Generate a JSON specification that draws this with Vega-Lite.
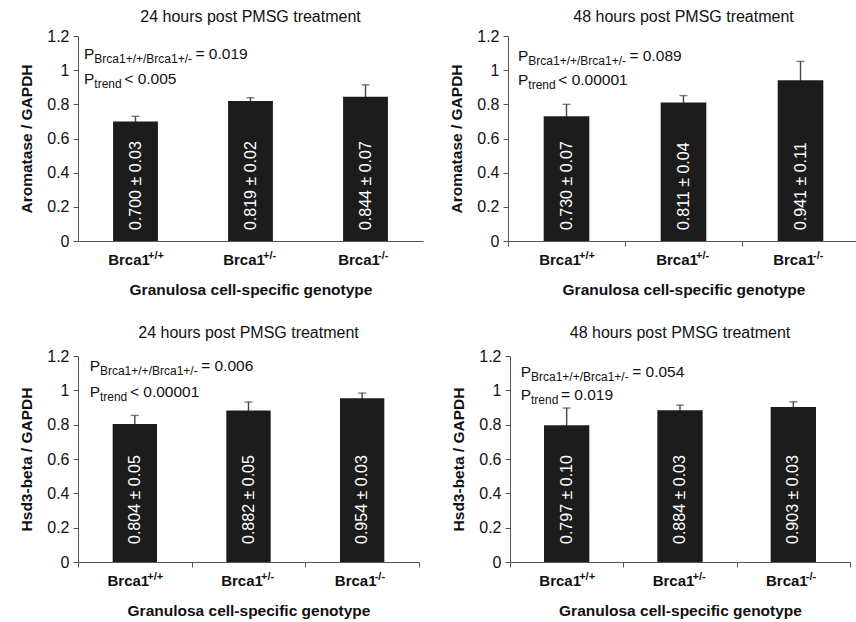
{
  "$schema": "https://vega.github.io/schema/vega-lite/v6.json",
  "padding": {"top": 9, "left": 19, "right": 0, "bottom": 0},
  "background": "white",
  "config": {
    "font": "Liberation Sans",
    "view": {"stroke": null},
    "title": {"fontSize": 16, "fontWeight": "normal", "offset": 3, "color": "#111"},
    "axisY": {"values": [0, 0.2, 0.4, 0.6, 0.8, 1, 1.2], "format": "~g", "grid": false, "labelFontSize": 16, "labelColor": "#111", "labelPadding": 4, "tickSize": 5, "domainColor": "#555", "tickColor": "#555", "titleFontSize": 15.5, "titleFontWeight": "bold", "titlePadding": 12, "titleColor": "#111"},
    "axisX": {"domainColor": "#555", "tickColor": "#555", "labelExpr": "datum.label ? 'Brca1' : ''", "labelAngle": 0, "labelFontSize": 15, "labelFontWeight": "bold", "labelColor": "#111", "labelOffset": -7, "labelPadding": 6, "tickSize": 5, "tickBand": "extent", "titleFontSize": 15.5, "titleFontWeight": "bold", "titleColor": "#111", "titlePadding": 15, "grid": false}
  },
  "datasets": {
    "tl": [
      {"genotype": "Brca1+/+", "sup": "+/+", "mean": 0.700, "se": 0.03, "label": "0.700 ± 0.03"},
      {"genotype": "Brca1+/-", "sup": "+/-", "mean": 0.819, "se": 0.02, "label": "0.819 ± 0.02"},
      {"genotype": "Brca1-/-", "sup": "-/-", "mean": 0.844, "se": 0.07, "label": "0.844 ± 0.07"}
    ],
    "tr": [
      {"genotype": "Brca1+/+", "sup": "+/+", "mean": 0.730, "se": 0.07, "label": "0.730 ± 0.07"},
      {"genotype": "Brca1+/-", "sup": "+/-", "mean": 0.811, "se": 0.04, "label": "0.811 ± 0.04"},
      {"genotype": "Brca1-/-", "sup": "-/-", "mean": 0.941, "se": 0.11, "label": "0.941 ± 0.11"}
    ],
    "bl": [
      {"genotype": "Brca1+/+", "sup": "+/+", "mean": 0.804, "se": 0.05, "label": "0.804 ± 0.05"},
      {"genotype": "Brca1+/-", "sup": "+/-", "mean": 0.882, "se": 0.05, "label": "0.882 ± 0.05"},
      {"genotype": "Brca1-/-", "sup": "-/-", "mean": 0.954, "se": 0.03, "label": "0.954 ± 0.03"}
    ],
    "br": [
      {"genotype": "Brca1+/+", "sup": "+/+", "mean": 0.797, "se": 0.10, "label": "0.797 ± 0.10"},
      {"genotype": "Brca1+/-", "sup": "+/-", "mean": 0.884, "se": 0.03, "label": "0.884 ± 0.03"},
      {"genotype": "Brca1-/-", "sup": "-/-", "mean": 0.903, "se": 0.03, "label": "0.903 ± 0.03"}
    ]
  },
  "vconcat": [
    {
      "hconcat": [
        {
          "width": 345, "height": 205,
          "title": "24 hours post PMSG treatment",
          "data": {"name": "tl"},
          "encoding": {
            "x": {"field": "genotype", "type": "nominal", "sort": null, "scale": {"paddingInner": 0, "paddingOuter": 0}, "axis": {"title": "Granulosa cell-specific genotype", "tickOpacity": 0}},
            "y": {"field": "mean", "type": "quantitative", "scale": {"domain": [0, 1.2]}, "axis": {"title": "Aromatase / GAPDH"}}
          },
          "layer": [
            {"mark": {"type": "errorbar", "ticks": true, "color": "#444", "thickness": 1.4, "size": 8}, "encoding": {"yError": {"field": "se"}}},
            {"mark": {"type": "bar", "color": "#1c1c1c", "width": {"band": 0.39}}},
            {"mark": {"type": "text", "angle": 270, "align": "left", "baseline": "middle", "fontSize": 16, "color": "white"}, "encoding": {"y": {"datum": 0.064}, "text": {"field": "label"}}},
            {"mark": {"type": "text", "align": "left", "baseline": "alphabetic", "fontSize": 11, "fontWeight": "bold", "color": "#111", "dx": 12.5}, "encoding": {"y": {"datum": -0.103}, "text": {"field": "sup"}}},
            {"transform": [{"filter": "datum.genotype === 'Brca1+/+'"}], "mark": {"type": "text", "text": "P", "align": "left", "baseline": "alphabetic", "fontSize": 15.5, "color": "#111", "dx": -51.5}, "encoding": {"y": {"datum": 1.063}}},
            {"transform": [{"filter": "datum.genotype === 'Brca1+/+'"}], "mark": {"type": "text", "text": "Brca1+/+/Brca1+/-", "align": "left", "baseline": "alphabetic", "fontSize": 12, "color": "#111", "dx": -41.2, "dy": 4}, "encoding": {"y": {"datum": 1.063}}},
            {"transform": [{"filter": "datum.genotype === 'Brca1+/+'"}], "mark": {"type": "text", "text": "= 0.019", "align": "left", "baseline": "alphabetic", "fontSize": 15.5, "color": "#111", "dx": 60}, "encoding": {"y": {"datum": 1.063}}},
            {"transform": [{"filter": "datum.genotype === 'Brca1+/+'"}], "mark": {"type": "text", "text": "P", "align": "left", "baseline": "alphabetic", "fontSize": 15.5, "color": "#111", "dx": -51.5}, "encoding": {"y": {"datum": 0.92}}},
            {"transform": [{"filter": "datum.genotype === 'Brca1+/+'"}], "mark": {"type": "text", "text": "trend", "align": "left", "baseline": "alphabetic", "fontSize": 12, "color": "#111", "dx": -41.2, "dy": 4}, "encoding": {"y": {"datum": 0.92}}},
            {"transform": [{"filter": "datum.genotype === 'Brca1+/+'"}], "mark": {"type": "text", "text": "< 0.005", "align": "left", "baseline": "alphabetic", "fontSize": 15.5, "color": "#111", "dx": -11.2}, "encoding": {"y": {"datum": 0.92}}}
          ]
        },
        {
          "width": 351, "height": 205,
          "title": "48 hours post PMSG treatment",
          "data": {"name": "tr"},
          "encoding": {
            "x": {"field": "genotype", "type": "nominal", "sort": null, "scale": {"paddingInner": 0, "paddingOuter": 0}, "axis": {"title": "Granulosa cell-specific genotype"}},
            "y": {"field": "mean", "type": "quantitative", "scale": {"domain": [0, 1.2]}, "axis": {"title": "Aromatase / GAPDH"}}
          },
          "layer": [
            {"mark": {"type": "errorbar", "ticks": true, "color": "#444", "thickness": 1.4, "size": 8}, "encoding": {"yError": {"field": "se"}}},
            {"mark": {"type": "bar", "color": "#1c1c1c", "width": {"band": 0.39}}},
            {"mark": {"type": "text", "angle": 270, "align": "left", "baseline": "middle", "fontSize": 16, "color": "white"}, "encoding": {"y": {"datum": 0.064}, "text": {"field": "label"}}},
            {"mark": {"type": "text", "align": "left", "baseline": "alphabetic", "fontSize": 11, "fontWeight": "bold", "color": "#111", "dx": 12.5}, "encoding": {"y": {"datum": -0.103}, "text": {"field": "sup"}}},
            {"transform": [{"filter": "datum.genotype === 'Brca1+/+'"}], "mark": {"type": "text", "text": "P", "align": "left", "baseline": "alphabetic", "fontSize": 15.5, "color": "#111", "dx": -48.5}, "encoding": {"y": {"datum": 1.053}}},
            {"transform": [{"filter": "datum.genotype === 'Brca1+/+'"}], "mark": {"type": "text", "text": "Brca1+/+/Brca1+/-", "align": "left", "baseline": "alphabetic", "fontSize": 12, "color": "#111", "dx": -38.2, "dy": 4}, "encoding": {"y": {"datum": 1.053}}},
            {"transform": [{"filter": "datum.genotype === 'Brca1+/+'"}], "mark": {"type": "text", "text": "= 0.089", "align": "left", "baseline": "alphabetic", "fontSize": 15.5, "color": "#111", "dx": 63}, "encoding": {"y": {"datum": 1.053}}},
            {"transform": [{"filter": "datum.genotype === 'Brca1+/+'"}], "mark": {"type": "text", "text": "P", "align": "left", "baseline": "alphabetic", "fontSize": 15.5, "color": "#111", "dx": -48.5}, "encoding": {"y": {"datum": 0.912}}},
            {"transform": [{"filter": "datum.genotype === 'Brca1+/+'"}], "mark": {"type": "text", "text": "trend", "align": "left", "baseline": "alphabetic", "fontSize": 12, "color": "#111", "dx": -38.2, "dy": 4}, "encoding": {"y": {"datum": 0.912}}},
            {"transform": [{"filter": "datum.genotype === 'Brca1+/+'"}], "mark": {"type": "text", "text": "< 0.00001", "align": "left", "baseline": "alphabetic", "fontSize": 15.5, "color": "#111", "dx": -8.2}, "encoding": {"y": {"datum": 0.912}}}
          ]
        }
      ],
      "spacing": 26
    },
    {
      "hconcat": [
        {
          "width": 341, "height": 206,
          "title": {"text": "24 hours post PMSG treatment", "offset": 7},
          "data": {"name": "bl"},
          "encoding": {
            "x": {"field": "genotype", "type": "nominal", "sort": null, "scale": {"paddingInner": 0, "paddingOuter": 0}, "axis": {"title": "Granulosa cell-specific genotype"}},
            "y": {"field": "mean", "type": "quantitative", "scale": {"domain": [0, 1.2]}, "axis": {"title": "Hsd3-beta / GAPDH"}}
          },
          "layer": [
            {"mark": {"type": "errorbar", "ticks": true, "color": "#444", "thickness": 1.4, "size": 8}, "encoding": {"yError": {"field": "se"}}},
            {"mark": {"type": "bar", "color": "#1c1c1c", "width": {"band": 0.39}}},
            {"mark": {"type": "text", "angle": 270, "align": "left", "baseline": "middle", "fontSize": 16, "color": "white"}, "encoding": {"y": {"datum": 0.105}, "text": {"field": "label"}}},
            {"mark": {"type": "text", "align": "left", "baseline": "alphabetic", "fontSize": 11, "fontWeight": "bold", "color": "#111", "dx": 12.5}, "encoding": {"y": {"datum": -0.103}, "text": {"field": "sup"}}},
            {"transform": [{"filter": "datum.genotype === 'Brca1+/+'"}], "mark": {"type": "text", "text": "P", "align": "left", "baseline": "alphabetic", "fontSize": 15.5, "color": "#111", "dx": -45.2}, "encoding": {"y": {"datum": 1.11}}},
            {"transform": [{"filter": "datum.genotype === 'Brca1+/+'"}], "mark": {"type": "text", "text": "Brca1+/+/Brca1+/-", "align": "left", "baseline": "alphabetic", "fontSize": 12, "color": "#111", "dx": -34.9, "dy": 4}, "encoding": {"y": {"datum": 1.11}}},
            {"transform": [{"filter": "datum.genotype === 'Brca1+/+'"}], "mark": {"type": "text", "text": "= 0.006", "align": "left", "baseline": "alphabetic", "fontSize": 15.5, "color": "#111", "dx": 66.3}, "encoding": {"y": {"datum": 1.11}}},
            {"transform": [{"filter": "datum.genotype === 'Brca1+/+'"}], "mark": {"type": "text", "text": "P", "align": "left", "baseline": "alphabetic", "fontSize": 15.5, "color": "#111", "dx": -45.2}, "encoding": {"y": {"datum": 0.964}}},
            {"transform": [{"filter": "datum.genotype === 'Brca1+/+'"}], "mark": {"type": "text", "text": "trend", "align": "left", "baseline": "alphabetic", "fontSize": 12, "color": "#111", "dx": -34.9, "dy": 4}, "encoding": {"y": {"datum": 0.964}}},
            {"transform": [{"filter": "datum.genotype === 'Brca1+/+'"}], "mark": {"type": "text", "text": "< 0.00001", "align": "left", "baseline": "alphabetic", "fontSize": 15.5, "color": "#111", "dx": -4.9}, "encoding": {"y": {"datum": 0.964}}}
          ]
        },
        {
          "width": 340, "height": 206,
          "title": {"text": "48 hours post PMSG treatment", "offset": 7},
          "data": {"name": "br"},
          "encoding": {
            "x": {"field": "genotype", "type": "nominal", "sort": null, "scale": {"paddingInner": 0, "paddingOuter": 0}, "axis": {"title": "Granulosa cell-specific genotype"}},
            "y": {"field": "mean", "type": "quantitative", "scale": {"domain": [0, 1.2]}, "axis": {"title": "Hsd3-beta / GAPDH"}}
          },
          "layer": [
            {"mark": {"type": "errorbar", "ticks": true, "color": "#444", "thickness": 1.4, "size": 8}, "encoding": {"yError": {"field": "se"}}},
            {"mark": {"type": "bar", "color": "#1c1c1c", "width": {"band": 0.4}}},
            {"mark": {"type": "text", "angle": 270, "align": "left", "baseline": "middle", "fontSize": 16, "color": "white"}, "encoding": {"y": {"datum": 0.105}, "text": {"field": "label"}}},
            {"mark": {"type": "text", "align": "left", "baseline": "alphabetic", "fontSize": 11, "fontWeight": "bold", "color": "#111", "dx": 12.5}, "encoding": {"y": {"datum": -0.103}, "text": {"field": "sup"}}},
            {"transform": [{"filter": "datum.genotype === 'Brca1+/+'"}], "mark": {"type": "text", "text": "P", "align": "left", "baseline": "alphabetic", "fontSize": 15.5, "color": "#111", "dx": -46}, "encoding": {"y": {"datum": 1.079}}},
            {"transform": [{"filter": "datum.genotype === 'Brca1+/+'"}], "mark": {"type": "text", "text": "Brca1+/+/Brca1+/-", "align": "left", "baseline": "alphabetic", "fontSize": 12, "color": "#111", "dx": -35.7, "dy": 4}, "encoding": {"y": {"datum": 1.079}}},
            {"transform": [{"filter": "datum.genotype === 'Brca1+/+'"}], "mark": {"type": "text", "text": "= 0.054", "align": "left", "baseline": "alphabetic", "fontSize": 15.5, "color": "#111", "dx": 65.5}, "encoding": {"y": {"datum": 1.079}}},
            {"transform": [{"filter": "datum.genotype === 'Brca1+/+'"}], "mark": {"type": "text", "text": "P", "align": "left", "baseline": "alphabetic", "fontSize": 15.5, "color": "#111", "dx": -46}, "encoding": {"y": {"datum": 0.946}}},
            {"transform": [{"filter": "datum.genotype === 'Brca1+/+'"}], "mark": {"type": "text", "text": "trend", "align": "left", "baseline": "alphabetic", "fontSize": 12, "color": "#111", "dx": -35.7, "dy": 4}, "encoding": {"y": {"datum": 0.946}}},
            {"transform": [{"filter": "datum.genotype === 'Brca1+/+'"}], "mark": {"type": "text", "text": "= 0.019", "align": "left", "baseline": "alphabetic", "fontSize": 15.5, "color": "#111", "dx": -5.7}, "encoding": {"y": {"datum": 0.946}}}
          ]
        }
      ],
      "spacing": 31
    }
  ],
  "spacing": 27
}
